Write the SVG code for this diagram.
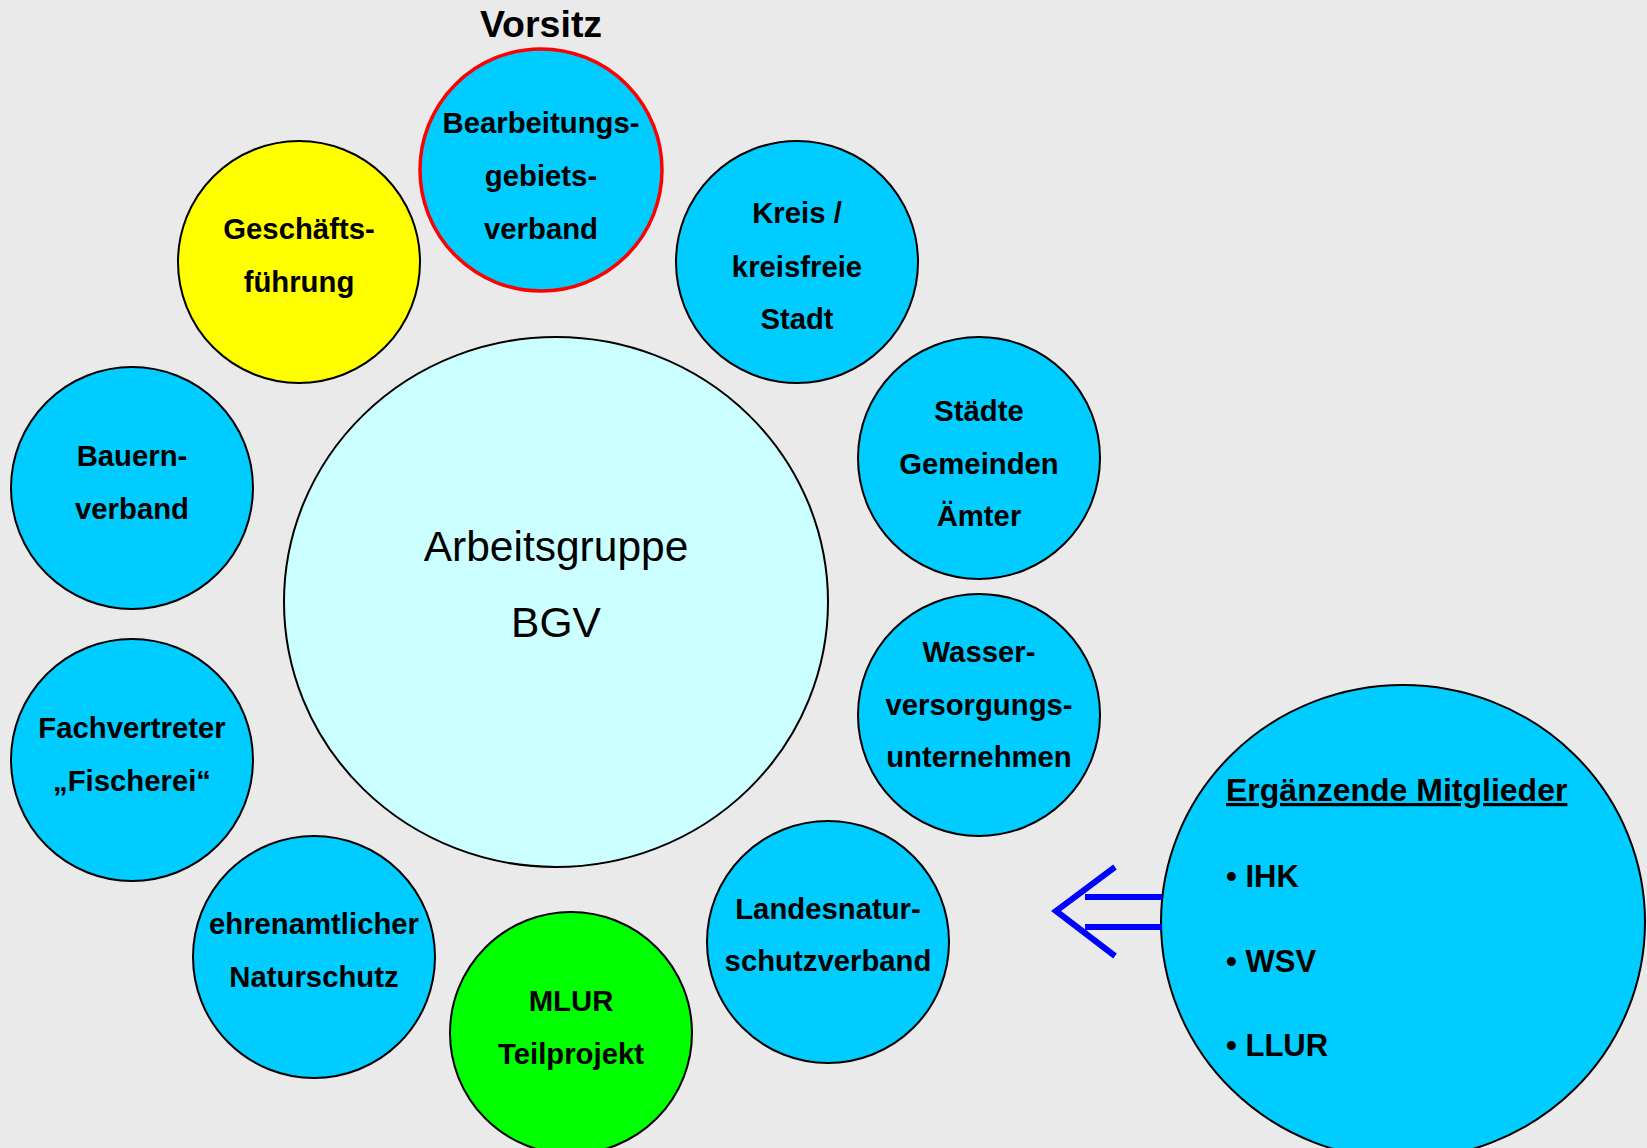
<svg xmlns="http://www.w3.org/2000/svg" width="1647" height="1148" viewBox="0 0 1647 1148">
<style>
.n{stroke:#000;stroke-width:2}
.c{fill:#00CCFF}
.t{font-family:"Liberation Sans",Arial,sans-serif;font-weight:bold;font-size:29.3px;text-anchor:middle;fill:#000}
.m{font-family:"Liberation Sans",Arial,sans-serif;font-size:42.5px;text-anchor:middle;fill:#000}
.b{font-family:"Liberation Sans",Arial,sans-serif;font-weight:bold;font-size:31px;fill:#000}
.a{stroke:#0000FF;stroke-width:6;fill:none}
</style>
<rect width="1647" height="1148" fill="#EAEAEA"/>
<g id="center">
<ellipse cx="556" cy="602" rx="272" ry="265" fill="#CCFFFF" class="n"/>
<text class="m" x="556" y="561">Arbeitsgruppe</text>
<text class="m" x="556" y="637">BGV</text>
</g>
<g id="vorsitz">
<text class="t" x="541" y="37" style="font-size:37.5px">Vorsitz</text>
</g>
<g id="bgv">
<circle cx="541" cy="170" r="121" class="c" stroke="#FF0000" stroke-width="3.5"/>
<text class="t" x="541" y="133">Bearbeitungs-</text>
<text class="t" x="541" y="186">gebiets-</text>
<text class="t" x="541" y="239">verband</text>
</g>
<g id="geschaeft">
<circle cx="299" cy="262" r="121" fill="#FFFF00" class="n"/>
<text class="t" x="299" y="239">Geschäfts-</text>
<text class="t" x="299" y="292">führung</text>
</g>
<g id="kreis">
<circle cx="797" cy="262" r="121" class="n c"/>
<text class="t" x="797" y="223">Kreis /</text>
<text class="t" x="797" y="277">kreisfreie</text>
<text class="t" x="797" y="329">Stadt</text>
</g>
<g id="bauern">
<circle cx="132" cy="488" r="121" class="n c"/>
<text class="t" x="132" y="466">Bauern-</text>
<text class="t" x="132" y="519">verband</text>
</g>
<g id="staedte">
<circle cx="979" cy="458" r="121" class="n c"/>
<text class="t" x="979" y="421">Städte</text>
<text class="t" x="979" y="474">Gemeinden</text>
<text class="t" x="979" y="526">Ämter</text>
</g>
<g id="wasser">
<circle cx="979" cy="715" r="121" class="n c"/>
<text class="t" x="979" y="662">Wasser-</text>
<text class="t" x="979" y="715">versorgungs-</text>
<text class="t" x="979" y="767">unternehmen</text>
</g>
<g id="fisch">
<circle cx="132" cy="760" r="121" class="n c"/>
<text class="t" x="132" y="738">Fachvertreter</text>
<text class="t" x="132" y="791">„Fischerei“</text>
</g>
<g id="ehren">
<circle cx="314" cy="957" r="121" class="n c"/>
<text class="t" x="314" y="934">ehrenamtlicher</text>
<text class="t" x="314" y="987">Naturschutz</text>
</g>
<g id="mlur">
<circle cx="571" cy="1033" r="121" fill="#00FF00" class="n"/>
<text class="t" x="571" y="1011">MLUR</text>
<text class="t" x="571" y="1064">Teilprojekt</text>
</g>
<g id="landes">
<circle cx="828" cy="942" r="121" class="n c"/>
<text class="t" x="828" y="919">Landesnatur-</text>
<text class="t" x="828" y="971">schutzverband</text>
</g>
<g id="ergaenzend">
<ellipse cx="1403" cy="922" rx="242" ry="237" class="n c"/>
<text class="b" x="1226" y="801" text-decoration="underline" style="font-size:32px">Ergänzende Mitglieder</text>
<text class="b" x="1226" y="887">• IHK</text>
<text class="b" x="1226" y="972">• WSV</text>
<text class="b" x="1226" y="1056">• LLUR</text>
</g>
<g id="connectors">
<line class="a" x1="1085" y1="897" x2="1162" y2="897"/>
<line class="a" x1="1085" y1="927" x2="1162" y2="927"/>
<polyline class="a" points="1115,867 1056,911 1115,956" stroke-width="5"/>
</g>
</svg>
